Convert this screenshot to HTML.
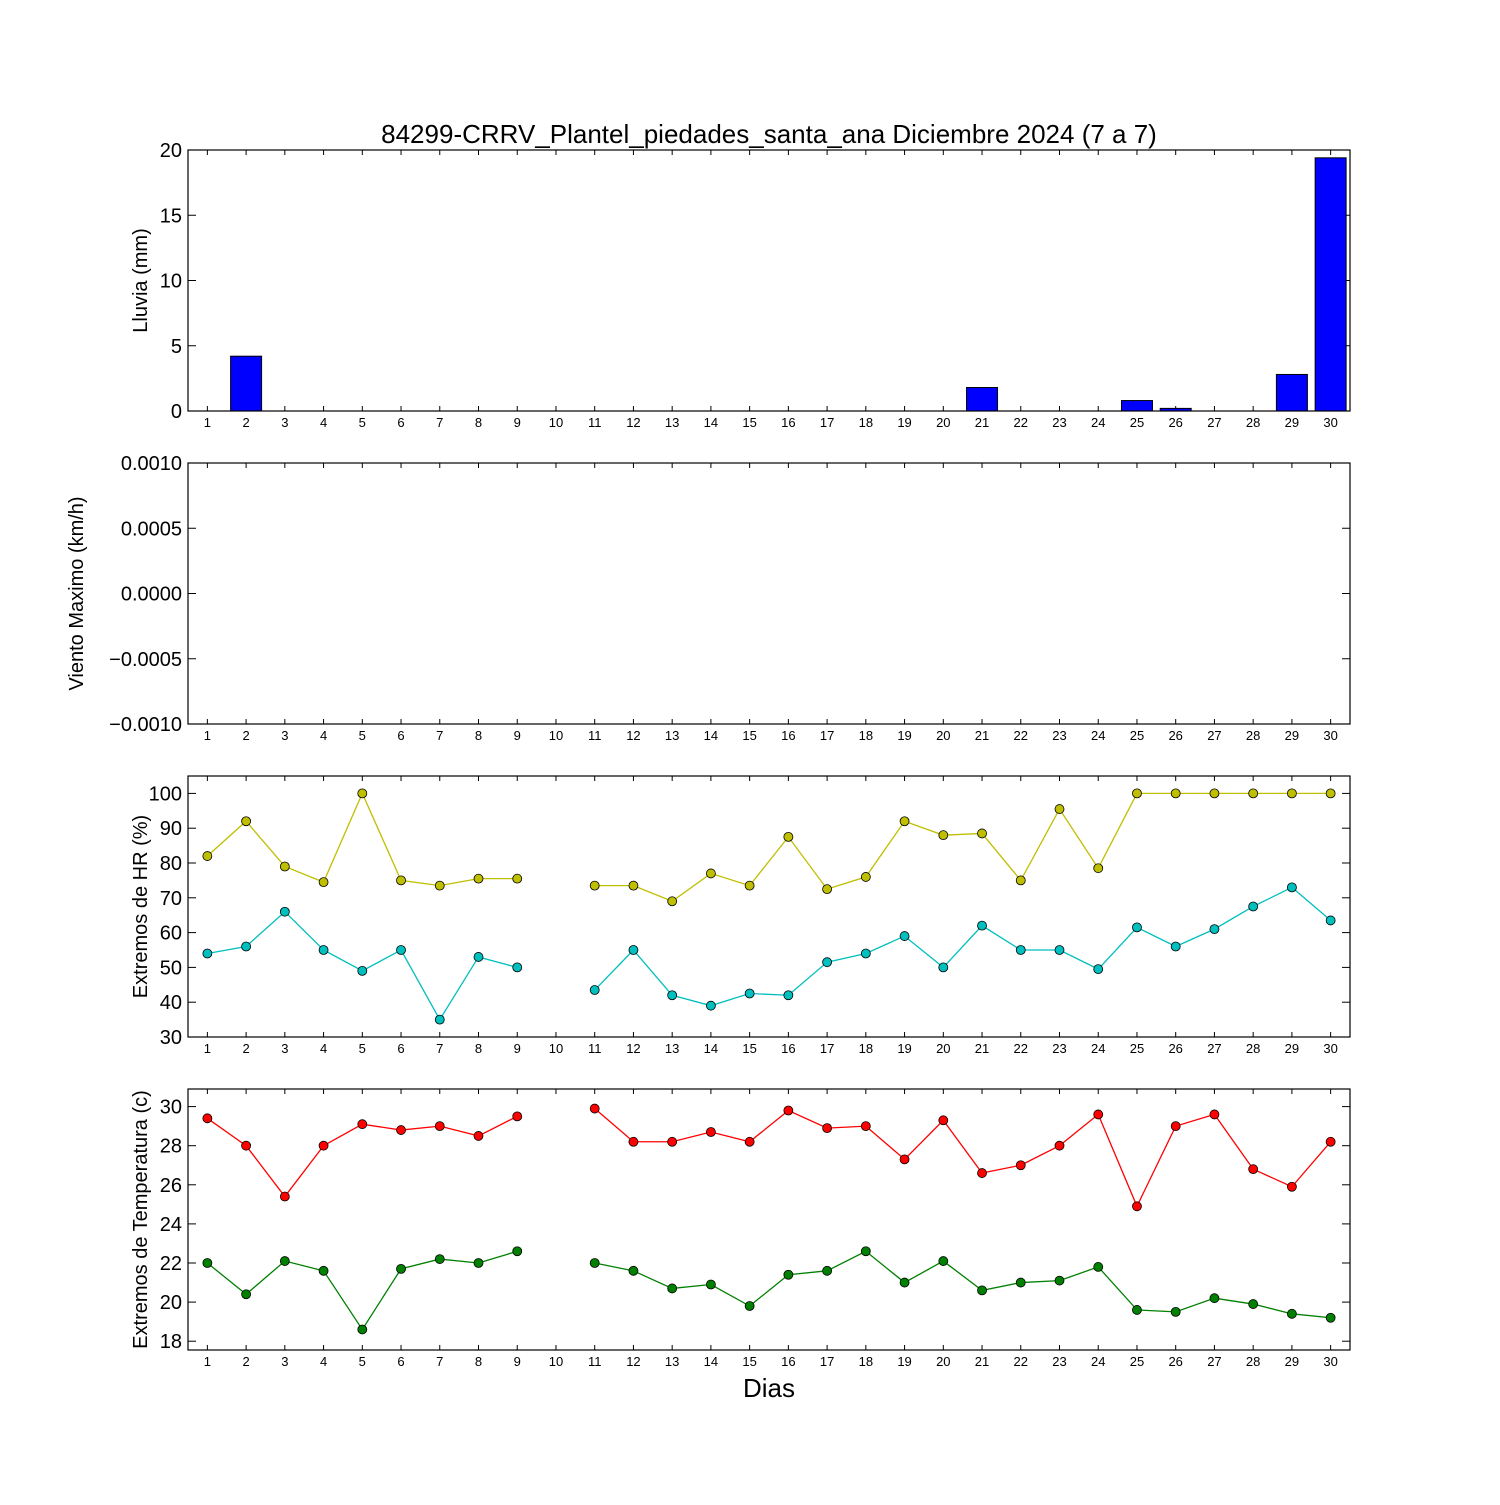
<!DOCTYPE html>
<html><head><meta charset="utf-8"><style>
body{margin:0;background:#fff}
text{font-family:"Liberation Sans","DejaVu Sans",sans-serif}
</style></head><body>
<svg id="chart" width="1500" height="1500" viewBox="0 0 1500 1500" xmlns="http://www.w3.org/2000/svg">
<rect width="1500" height="1500" fill="#fff"/>
<text x="769" y="143" font-size="26" text-anchor="middle">84299-CRRV_Plantel_piedades_santa_ana Diciembre 2024  (7 a 7)</text>
<text x="769" y="1397" font-size="26" text-anchor="middle">Dias</text>
</svg>
<script>
const days = Array.from({length:30},(_, i)=>i+1);
const rain = [0,4.2,0,0,0,0,0,0,0,0,0,0,0,0,0,0,0,0,0,0,1.8,0,0,0,0.8,0.2,0,0,2.8,19.4];
const hrMax = [82,92,79,74.5,100,75,73.5,75.5,75.5,null,73.5,73.5,69,77,73.5,87.5,72.5,76,92,88,88.5,75,95.5,78.5,100,100,100,100,100,100];
const hrMin = [54,56,66,55,49,55,35,53,50,null,43.5,55,42,39,42.5,42,51.5,54,59,50,62,55,55,49.5,61.5,56,61,67.5,73,63.5];
const tMax = [29.4,28,25.4,28,29.1,28.8,29,28.5,29.5,null,29.9,28.2,28.2,28.7,28.2,29.8,28.9,29,27.3,29.3,26.6,27,28,29.6,24.9,29,29.6,26.8,25.9,28.2];
const tMin = [22,20.4,22.1,21.6,18.6,21.7,22.2,22,22.6,null,22,21.6,20.7,20.9,19.8,21.4,21.6,22.6,21,22.1,20.6,21,21.1,21.8,19.6,19.5,20.2,19.9,19.4,19.2];
const rainTicks = [0,5,10,15,20];
const windTicks = [-0.001,-0.0005,0,0.0005,0.001];
const windLabels = ["\u22120.0010","\u22120.0005","0.0000","0.0005","0.0010"];
const hrTicks = [30,40,50,60,70,80,90,100];
const tTicks = [18,20,22,24,26,28,30];

const svg=document.getElementById('chart');
const NS='http://www.w3.org/2000/svg';
function mk(tag,attrs,parent){const e=document.createElementNS(NS,tag);for(const k in attrs)e.setAttribute(k,attrs[k]);(parent||svg).appendChild(e);return e;}
const L=188,R=1350;
const xs=d=>L+(d-0.5)*(R-L)/30;

function panel(name,top,bot,ymin,ymax,ticks,labels,ylabel){
  const g=mk('g',{});
  
  
  const ys=v=>bot-(v-ymin)/(ymax-ymin)*(bot-top);
  // x ticks
  days.forEach(d=>{
    const x=xs(d);
    mk('line',{x1:x,x2:x,y1:bot,y2:bot-5,stroke:'#000'},g);
    mk('line',{x1:x,x2:x,y1:top,y2:top+5,stroke:'#000'},g);
    const t=mk('text',{x:x,y:bot+16,'font-size':13,'text-anchor':'middle'},g);
    
    
    t.textContent=d;
  });
  ticks.forEach((v,i)=>{
    const y=ys(v);
    mk('line',{x1:L,x2:L+8,y1:y,y2:y,stroke:'#000'},g);
    mk('line',{x1:R,x2:R-8,y1:y,y2:y,stroke:'#000'},g);
    const t=mk('text',{x:L-6,y:y+7,'font-size':20,'text-anchor':'end'},g);
    
    
    t.textContent=labels?labels[i]:v;
  });
  const yl=mk('text',{x:0,y:0,'font-size':20,'text-anchor':'middle',transform:`translate(${name==='wind-panel'?83:147},${(top+bot)/2}) rotate(-90)`},g);
  
  
  yl.textContent=ylabel;
  return {g,ys,top,bot};
}
function frame(p){mk('rect',{x:L,y:p.top,width:R-L,height:p.bot-p.top,fill:'none',stroke:'#000','stroke-width':1.2},p.g);}
function series(p,vals,color,name){
  let d='',pen=false;
  vals.forEach((v,i)=>{if(v==null){pen=false;return;}d+=(pen?'L':'M')+xs(days[i])+','+p.ys(v);pen=true;});
  const path=mk('path',{d:d,fill:'none',stroke:color,'stroke-width':1.3},p.g);
  
  
  vals.forEach((v,i)=>{if(v==null)return;
    const c=mk('circle',{cx:xs(days[i]),cy:p.ys(v),r:4.5,fill:color,stroke:'#000','stroke-width':0.8},p.g);
    
    
  });
}

const p1=panel('rain-panel',150,411,0,20,rainTicks,null,'Lluvia (mm)');
rain.forEach((v,i)=>{
  const w=0.8*(R-L)/30,x=xs(days[i])-w/2;
  const b=mk('rect',{x:x,y:p1.ys(v),width:w,height:p1.bot-p1.ys(v),fill:'#0000ff',stroke:'#000','stroke-width':1},p1.g);
  
  
});
frame(p1);
const p2=panel('wind-panel',463,724,-0.001,0.001,windTicks,windLabels,'Viento Maximo (km/h)');frame(p2);
const p3=panel('humidity-panel',776,1037,30,105,hrTicks,null,'Extremos de HR (%)');
series(p3,hrMax,'#bfbf00','hr-max');series(p3,hrMin,'#00bfbf','hr-min');frame(p3);
const p4=panel('temperature-panel',1089,1350,17.55,30.9,tTicks,null,'Extremos de Temperatura (c)');
series(p4,tMax,'#ff0000','temp-max');series(p4,tMin,'#008000','temp-min');frame(p4);
</script>
</body></html>
